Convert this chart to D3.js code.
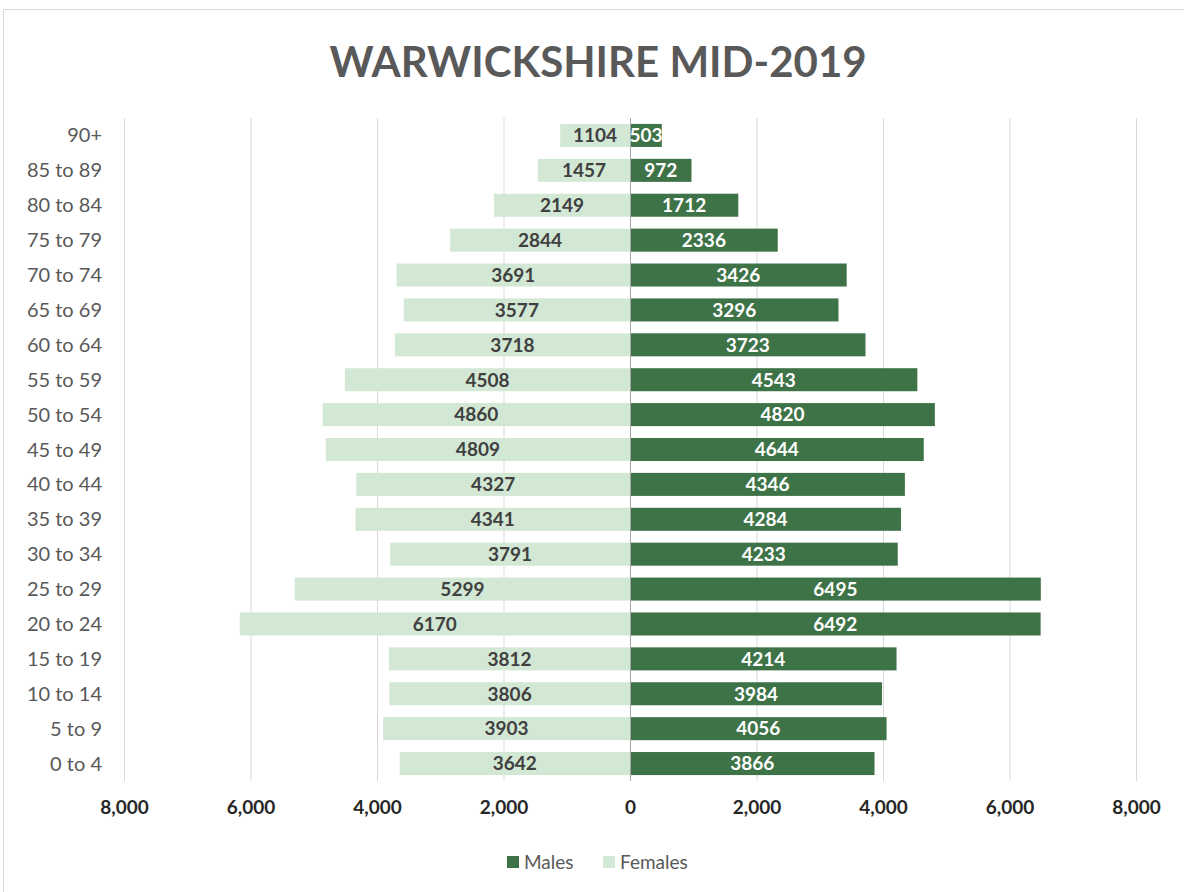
<!DOCTYPE html>
<html>
<head>
<meta charset="utf-8">
<script src="https://cdn.jsdelivr.net/npm/d3@7"></script>
<style>
  body { margin: 0; background: #fff; }
  svg { display: block; font-family: Lato, "Open Sans", sans-serif; }
</style>
</head>
<body>
<div id="chart"></div>
<script>
const ageGroups = ['90+', '85 to 89', '80 to 84', '75 to 79', '70 to 74', '65 to 69', '60 to 64',
  '55 to 59', '50 to 54', '45 to 49', '40 to 44', '35 to 39', '30 to 34', '25 to 29',
  '20 to 24', '15 to 19', '10 to 14', '5 to 9', '0 to 4'];
const females = [1104, 1457, 2149, 2844, 3691, 3577, 3718, 4508, 4860, 4809, 4327, 4341,
  3791, 5299, 6170, 3812, 3806, 3903, 3642];
const males = [503, 972, 1712, 2336, 3426, 3296, 3723, 4543, 4820, 4644, 4346, 4284,
  4233, 6495, 6492, 4214, 3984, 4056, 3866];
const xTicks = [-8000, -6000, -4000, -2000, 0, 2000, 4000, 6000, 8000];

const W = 1184, H = 892;
const maleColor = '#3e7348', femaleColor = '#d3e8d4';

const svg = d3.select('#chart').append('svg')
    .attr('width', W)
    .attr('height', H);

// chart frame
svg.append('rect')
    .attr('x', 3.5).attr('y', 9.5)
    .attr('width', W).attr('height', H)
    .attr('fill', 'none')
    .attr('stroke', '#d9d9d9');

svg.append('text')
    .attr('x', 598).attr('y', 77)
    .attr('text-anchor', 'middle')
    .attr('font-size', 42)
    .attr('font-weight', 'bold')
    .attr('fill', '#595959')
    .text('WARWICKSHIRE MID-2019');

const plotTop = 118, plotBottom = 781;

const x = d3.scaleLinear()
    .domain([-8000, 8000])
    .range([124, 1136]);

const y = d3.scaleBand()
    .domain(ageGroups)
    .range([plotTop, plotBottom])
    .paddingInner(0.34)
    .paddingOuter(0.17);

// gridlines
svg.append('g')
  .selectAll('line')
  .data(xTicks.filter(d => d !== 0))
  .join('line')
    .attr('x1', d => x(d) + 0.5).attr('x2', d => x(d) + 0.5)
    .attr('y1', plotTop).attr('y2', plotBottom)
    .attr('stroke', '#d9d9d9');

// x axis labels
const xAxis = svg.append('g')
    .attr('transform', `translate(0, ${plotBottom + 16})`)
    .call(d3.axisBottom(x).tickValues(xTicks).tickSize(0)
      .tickFormat(d => d3.format(',')(Math.abs(d))));
xAxis.select('.domain').remove();
xAxis.selectAll('text')
    .attr('font-family', 'Lato, sans-serif')
    .attr('font-size', 19)
    .attr('font-weight', 'bold')
    .attr('fill', '#262626');

// category labels
svg.append('g')
  .selectAll('text')
  .data(ageGroups)
  .join('text')
    .attr('x', 102)
    .attr('y', d => y(d) + y.bandwidth() / 2)
    .attr('dy', '0.35em')
    .attr('text-anchor', 'end')
    .attr('font-size', 20)
    .attr('fill', '#595959')
    .text(d => d);

// female bars
svg.append('g')
  .selectAll('rect')
  .data(females)
  .join('rect')
    .attr('x', d => x(-d))
    .attr('y', (d, i) => y(ageGroups[i]))
    .attr('width', d => x(0) - x(-d))
    .attr('height', y.bandwidth())
    .attr('fill', femaleColor);

// male bars
svg.append('g')
  .selectAll('rect')
  .data(males)
  .join('rect')
    .attr('x', x(0))
    .attr('y', (d, i) => y(ageGroups[i]))
    .attr('width', d => x(d) - x(0))
    .attr('height', y.bandwidth())
    .attr('fill', maleColor);

// centre axis line
svg.append('line')
    .attr('x1', x(0) + 0.5).attr('x2', x(0) + 0.5)
    .attr('y1', plotTop).attr('y2', plotBottom)
    .attr('stroke', '#a6a6a6');

// value labels
svg.append('g')
  .selectAll('text')
  .data(females)
  .join('text')
    .attr('x', d => (x(-d) + x(0)) / 2)
    .attr('y', (d, i) => y(ageGroups[i]) + y.bandwidth() / 2)
    .attr('dy', '0.36em')
    .attr('text-anchor', 'middle')
    .attr('font-size', 19)
    .attr('font-weight', 'bold')
    .attr('fill', '#404040')
    .text(d => d);

svg.append('g')
  .selectAll('text')
  .data(males)
  .join('text')
    .attr('x', d => (x(d) + x(0)) / 2)
    .attr('y', (d, i) => y(ageGroups[i]) + y.bandwidth() / 2)
    .attr('dy', '0.36em')
    .attr('text-anchor', 'middle')
    .attr('font-size', 19)
    .attr('font-weight', 'bold')
    .attr('fill', '#ffffff')
    .text(d => d);

// legend
const legend = [{name: 'Males', color: maleColor, x: 507}, {name: 'Females', color: femaleColor, x: 603}];
const lg = svg.append('g')
  .selectAll('g')
  .data(legend)
  .join('g')
    .attr('transform', d => `translate(${d.x}, 856)`);
lg.append('rect')
    .attr('width', 12).attr('height', 12)
    .attr('fill', d => d.color);
lg.append('text')
    .attr('x', 17).attr('y', 6)
    .attr('dy', '0.36em')
    .attr('font-size', 19)
    .attr('fill', '#595959')
    .text(d => d.name);
</script>
</body>
</html>
